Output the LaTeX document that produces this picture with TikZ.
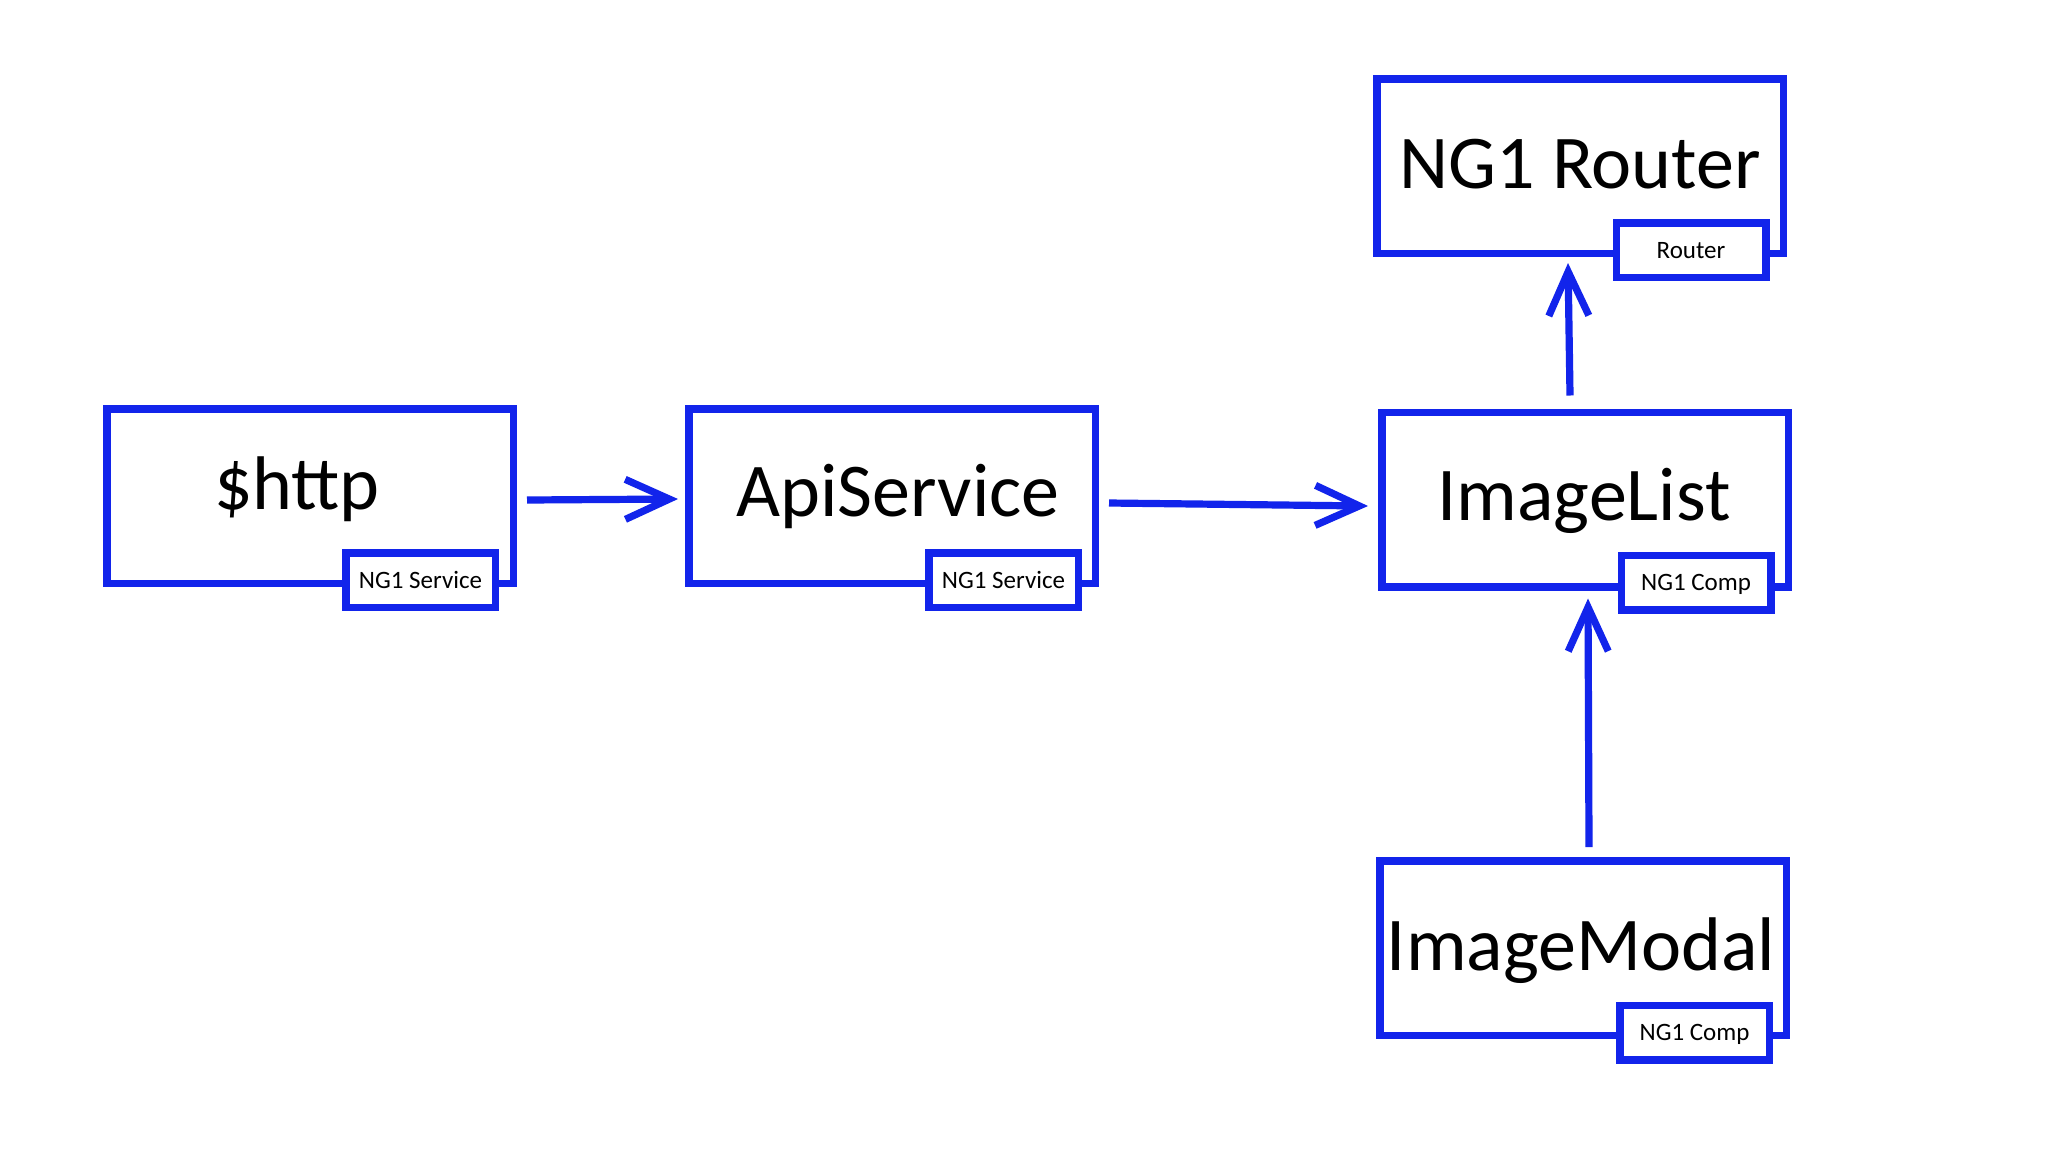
\documentclass[tikz,border=0pt]{standalone}
\usepackage{fontspec}
\setmainfont{Carlito}
\usetikzlibrary{arrows.meta}
\definecolor{ngblue}{RGB}{18,36,235}
\begin{document}
\begin{tikzpicture}[x=0.5pt,y=-0.5pt,
  box/.style={draw=ngblue,line width=3.75pt,minimum width=203.25pt,minimum height=87.25pt,inner sep=0pt},
  tag/.style={draw=ngblue,fill=white,line width=3.75pt,minimum width=74.75pt,minimum height=27.25pt,inner sep=0pt,
    font=\fontsize{12.5}{14}\selectfont,text height=0.8em,text depth=0pt},
  big/.style={font=\fontsize{38}{44}\selectfont,anchor=base,inner sep=0pt},
  arr/.style={draw=ngblue,line width=3.6pt,-{Straight Barb[length=22pt,width=20pt]}}]
\fill[white] (0,0) rectangle (2048,1152);
\useasboundingbox (0,0) rectangle (2048,1152);

% main boxes
\node[box] (http)   at (310,496)   {};
\node[box] (api)    at (892,496)   {};
\node[box] (list)   at (1585,499.5) {};
\node[box] (router) at (1580,166)  {};
\node[box] (modal)  at (1583,948)  {};

% tags
\node[tag] (httptag)   at (420.5,580)   {NG1 Service};
\node[tag] (apitag)    at (1003.5,580)  {NG1 Service};
\node[tag] (listtag)   at (1696,582.5)  {NG1 Comp};
\node[tag] (routertag) at (1691,250)    {Router};
\node[tag] (modaltag)  at (1694.5,1032.5) {NG1 Comp};

% titles
\node[big] (httpt)   at (297,509)  {\$http};
\node[big] (apit)    at (898,516)  {ApiService};
\node[big] (listt)   at (1584,520) {ImageList};
\node[big] (routert) at (1580,188) {NG1 Router};
\node[big] (modalt)  at (1581,970) {ImageModal};

% connectors
\draw[arr] ([shift={(10,4)}]http.east) -- ([shift={(-7,3)}]api.west);
\draw[arr] ([shift={(10,7)}]api.east) -- ([shift={(-10,6.5)}]list.west);
\draw[arr] ([shift={(-15,-13)}]list.north) -- ([shift={(-12,6)}]router.south);
\draw[arr] ([shift={(6,-10)}]modal.north) -- ([shift={(3,8)}]list.south);
\end{tikzpicture}
\end{document}
